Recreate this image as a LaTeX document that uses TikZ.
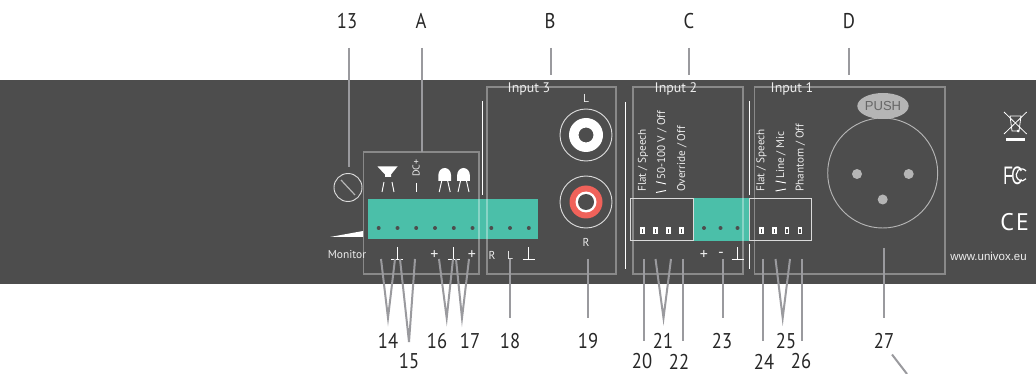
\documentclass[tikz,border=0pt]{standalone}
\usepackage{fontspec}
\usetikzlibrary{shapes.geometric}
\setmainfont{PT Sans}
\newfontfamily\logofont{Liberation Sans}
\definecolor{panelgrey}{HTML}{4D4D4D}
\definecolor{calloutgrey}{HTML}{9A9A9E}
\definecolor{termgreen}{HTML}{4BBFA9}
\definecolor{rcared}{HTML}{F0625A}
\definecolor{pingrey}{HTML}{B5B5B5}
\begin{document}
\begin{tikzpicture}[x=0.75pt,y=-0.75pt,
    callout/.style={draw=calloutgrey,line width=1.5pt},
    number/.style={font=\fontsize{16}{16}\selectfont,text=black!85,inner sep=0pt},
    frame/.style={draw=white,draw opacity=.34,line width=1pt},
    whiteline/.style={draw=white,line width=.7pt},
    thinline/.style={draw=white!80!panelgrey,line width=.7pt},
    panel text/.style={font=\fontsize{8.6}{9}\selectfont,text=white!90!panelgrey,inner sep=0pt},
    side text/.style={panel text,rotate=90,anchor=west,font=\fontsize{8.4}{9}\selectfont},
    input text/.style={panel text,font=\fontsize{10.4}{11}\selectfont},
    sign text/.style={panel text,font=\fontsize{12}{12}\selectfont}]
\useasboundingbox (0,0) rectangle (1036,374);
\fill[panelgrey] (0,80) rectangle (1036,284);

% terminal blocks
\fill[termgreen] (368,199) rectangle (538,239);
\fill[termgreen] (693,198) rectangle (749,241);
\foreach \x in {378.7,397.5,416.2,435,453.8,472.5,491.3,510,528.8}
    \fill[panelgrey] (\x,228) circle (2);
\foreach \x in {704,720.5,737.5}
    \fill[panelgrey] (\x,228) circle (2);

% group frames
\draw[frame] (363.5,152) rectangle (479,274);
\draw[frame] (487,87) rectangle (616,274);
\draw[frame] (633,87) rectangle (743,274);
\draw[frame] (754.5,87) rectangle (945,274);
\node[input text] (input3) at (529,89) {Input 3};
\node[input text] (input2) at (676,89) {Input 2};
\node[input text] (input1) at (792,89) {Input 1};

% separators
\draw[whiteline] (482,101) -- (482,195);
\draw[whiteline] (625,102) -- (625,269);
\draw[whiteline] (749,101) -- (749,195);
\draw[whiteline] (749,244) -- (749,269);

% monitor trimmer
\draw[thinline] (348,187.5) circle (14);
\draw[thinline,draw=pingrey,line width=.9pt] (341,180) -- (355,195);
\fill[white] (330,237) -- (363,231) -- (363,237) -- cycle;
\node[panel text] (monitor) at (347,255) {Monitor};

% speaker, dc and led icons
\fill[white] (377.5,166.5) -- (397.5,166.5) -- (391,174.5) -- (391,177) -- (385,177) -- (385,174.5) -- cycle;
\draw[whiteline] (384,182) -- (382,192) (392,182) -- (394,192);
\node[side text,font=\fontsize{7.5}{8}\selectfont] (dc) at (416,177) {DC+};
\draw[whiteline] (416,183) -- (416,192);
\foreach \x in {444.7,463.5} {
    \fill[white] (\x-6.3,181) -- (\x-6.3,175) arc (180:360:6.3 and 7) -- (\x+6.3,181) -- cycle;
    \draw[whiteline] (\x-3,181) -- (\x-5.5,192) (\x+3,181) -- (\x+5.5,192);
}

% terminal marks
\foreach \x in {397.3,453.7,528.7,737.5}
    \draw[whiteline] (\x,247) -- (\x,259) (\x-6,259) -- (\x+6,259);
\node[sign text] (plusa) at (434.5,255) {+};
\node[sign text] (plusb) at (472,255) {+};
\node[panel text] (termr) at (492,255) {R};
\node[panel text] (terml) at (510,255) {L};
\node[sign text] (plusc) at (704,255) {+};
\node[sign text] (minusc) at (721,255) {-};

% rca sockets
\node[panel text] (rcal) at (586,98) {L};
\node[panel text] (rcar) at (586,242) {R};
\draw[thinline] (586,135) circle (26);
\fill[white,even odd rule] (586,135) circle (17) (586,135) circle (7.5);
\draw[thinline] (586,202) circle (26);
\fill[rcared] (586,202) circle (16.5);
\fill[white] (586,202) circle (10.5);
\fill[panelgrey] (586,202) circle (8);

% switches
\draw[thinline] (630.5,198) rectangle (693,240.5);
\draw[thinline] (749.5,198) rectangle (811.5,240.5);
\foreach \x in {642.5,655.5,668.5,681.5,761.5,774.5,787,800}
    \draw[draw=white,fill=panelgrey,line width=1.1pt] (\x-1.4,228) rectangle (\x+1.4,233.5);
\node[side text] (flatc) at (643,192) {Flat / Speech};
\node[side text] (voltc) at (662,180) {50-100 V / Off};
\node[side text] (overc) at (682,192) {Override / Off};
\node[side text] (flatd) at (761.5,192) {Flat / Speech};
\node[side text] (lined) at (781,179) {Line / Mic};
\node[side text] (phand) at (800.5,192) {Phantom / Off};
\draw[whiteline] (656,181.7) -- (666,184) (656,192.5) -- (666,190.5);
\draw[whiteline] (775.5,181) -- (786,183) (775.5,191) -- (786,189);

% xlr socket
\draw[draw=pingrey,line width=.7pt] (882.7,173) circle (55);
\foreach \x/\y in {857/174,908.7/174,882.7/199.5}
    \fill[pingrey] (\x,\y) circle (5);
\node[ellipse,fill=pingrey,minimum width=34.5pt,minimum height=19.5pt,inner sep=0pt,
    font=\logofont\fontsize{9.8}{10}\selectfont,text=black!60] (push) at (883,106) {PUSH};

% approval marks
\draw[whiteline,line width=.6pt] (1004,112) -- (1026.7,134) (1026.7,112) -- (1004,134);
\draw[whiteline,line width=.6pt] (1010,116) -- (1021,116) -- (1019,131) -- (1012,131) -- cycle;
\fill[white] (1018,131) circle (1.5);
\fill[white] (1005.7,138.5) rectangle (1025,141);
\node[inner sep=0pt,text=white,font=\logofont\fontsize{19}{19}\selectfont] (fcc) at (1013,175.5) {\scalebox{.62}[1]{F\kern-2pt C}};
\draw[whiteline,line width=.9pt] (1026,171) arc (-40:-320:5.5 and 6);
\node[inner sep=0pt,text=white,font=\fontsize{18}{18}\selectfont] (ce) at (1014.7,222.5) {C\kern1.5pt E};
\node[inner sep=0pt,text=white!90!panelgrey,font=\logofont\fontsize{8.6}{9}\selectfont] (web) at (988.5,256) {www.univox.eu};

% labels
\foreach \name/\txt/\x/\y in {n13/13/347/21,na/A/421/21,nb/B/550/21,nc/C/689/21,nd/D/849/21,
    n14/14/388/341,n15/15/409/361.5,n16/16/437/341,n17/17/470/341,n18/18/510/341,n19/19/588/341,
    n20/20/642/361.5,n21/21/663/341,n22/22/679/361.5,n23/23/722/341,n24/24/764/361.5,n25/25/786/341,
    n26/26/801/361.5,n27/27/884/341}
    \node[number] (\name) at (\x,\y) {\scalebox{.87}[1]{\txt}};

% callout ends
\foreach \name/\x/\y in {t13/348.5/48,b13/348.5/167,ta/422/48,ba/422/152,tb/551/48,bb/551/75,
    tc/688.7/48,bc/688.7/75,td/849/48,bd/849/75,
    a14/381/259,m14/388/318,c14/395/259,a15/400/259,m15/409/342,c15/415/259,
    a16/439/259,m16/446.7/318,c16/453/259,a17/456/259,m17/462/318,c17/469/259,
    a18/510/259,m18/510/318,a19/587.5/259,m19/587.5/318,
    a20/644.3/259,m20/644.3/340.5,a21/655.5/259,m21/663.5/318,c21/671/259,a22/682.5/259,m22/682.5/340.5,
    a23/722.6/259,m23/722.6/318,a24/763.3/259,m24/763.3/340.5,a25/775.5/259,m25/782.7/318,c25/790/259,
    a26/801.5/259,m26/801.5/340.5,a27/884/248,m27/884/318,s27/892/354.5,e27/907/374}
    \coordinate (\name) at (\x,\y);

\draw[callout] (t13) -- (b13);
\draw[callout] (ta) -- (ba);
\draw[callout] (tb) -- (bb);
\draw[callout] (tc) -- (bc);
\draw[callout] (td) -- (bd);
\foreach \a/\m/\c in {a14/m14/c14,a15/m15/c15,a16/m16/c16,a17/m17/c17,a21/m21/c21,a25/m25/c25}
    \draw[callout,line join=miter] (\a) -- (\m) -- (\c);
\foreach \a/\m in {a18/m18,a19/m19,a20/m20,a22/m22,a23/m23,a24/m24,a26/m26,a27/m27,s27/e27}
    \draw[callout] (\a) -- (\m);
\end{tikzpicture}
\end{document}
